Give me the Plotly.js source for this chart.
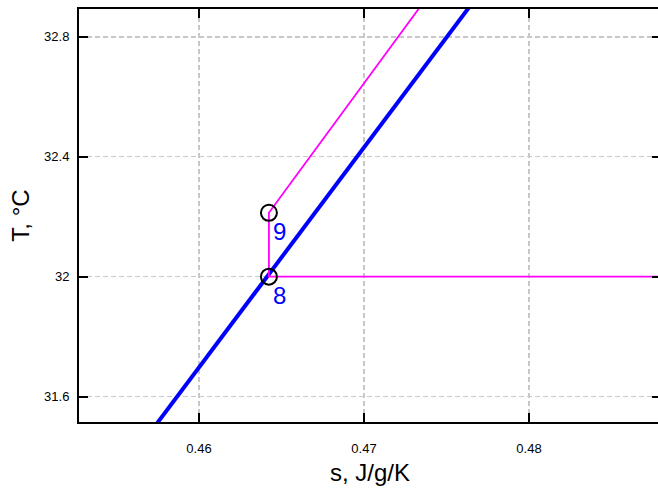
<!DOCTYPE html>
<html>
<head>
<meta charset="utf-8">
<script src="https://cdn.plot.ly/plotly-3.0.1.min.js"></script>
<style>
html,body{margin:0;padding:0;overflow:hidden;background:#fff;}
#chart{width:665px;height:497px;}
</style>
</head>
<body>
<div id="chart"></div>
<script>
// Saturation line (blue)
const satS = [0.4565, 0.4770];
const satT = [31.44, 32.945];
// Process path (magenta)
const pathS = [0.4900, 0.46424, 0.46424, 0.4740];
const pathT = [32.0, 32.0, 32.213, 32.945];
// State points
const ptLabels = ['9', '8'];
const ptS = [0.46424, 0.46424];
const ptT = [32.213, 32.0];
// Axis ticks
const xTicks = [0.46, 0.47, 0.48];
const yTicks = [31.6, 32.0, 32.4, 32.8];
const yTickText = ['31.6', '32', '32.4', '32.8'];

const font = 'Liberation Sans, Arial, sans-serif';

const traces = [
  {x: satS, y: satT, mode: 'lines', line: {color: '#0000ff', width: 4}, hoverinfo: 'skip'},
  {x: pathS, y: pathT, mode: 'lines', line: {color: '#ff00ff', width: 1.8}, hoverinfo: 'skip'},
  {x: ptS, y: ptT, mode: 'markers',
   marker: {symbol: 'circle-open', size: 16, color: '#000', line: {width: 2, color: '#000'}}, hoverinfo: 'skip'}
];

const annotations = ptLabels.map((t, i) => ({
  x: ptS[i], y: ptT[i], xref: 'x', yref: 'y', text: t, showarrow: false,
  xanchor: 'left', yanchor: 'top', xshift: 2, yshift: -3,
  font: {family: font, size: 24, color: '#0000ff'}
}));

const axisCommon = {
  showline: true, linecolor: '#000', linewidth: 2, mirror: 'ticks',
  ticks: 'inside', ticklen: 9, tickwidth: 2, tickcolor: '#000',
  showgrid: true, gridcolor: '#c8c8c8', gridwidth: 1.3, griddash: '5px,3px',
  zeroline: false, tickfont: {family: font, size: 13, color: '#000'}
};

const layout = {
  width: 665, height: 497,
  margin: {l: 79, r: 4, t: 9, b: 75},
  paper_bgcolor: '#fff', plot_bgcolor: '#fff',
  showlegend: false,
  xaxis: Object.assign({}, axisCommon, {
    range: [0.45273, 0.48800],
    tickvals: xTicks, ticktext: xTicks.map(v => v.toFixed(2)),
    ticklabelstandoff: 13,
    title: {text: 's, J/g/K', font: {family: font, size: 24, color: '#000'}, standoff: 10}
  }),
  yaxis: Object.assign({}, axisCommon, {
    range: [31.515, 32.893],
    tickvals: yTicks, ticktext: yTickText,
    ticklabelstandoff: 5,
    title: {text: 'T, °C', font: {family: font, size: 24, color: '#000'}, standoff: 8}
  }),
  annotations: annotations
};

Plotly.newPlot('chart', traces, layout, {displayModeBar: false, staticPlot: true});
</script>
</body>
</html>
